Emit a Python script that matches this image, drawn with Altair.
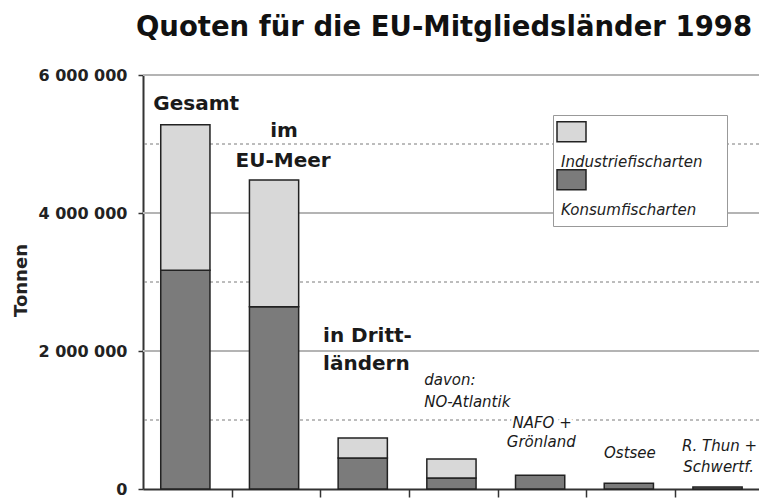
import altair as alt
import pandas as pd

# ---- data ----
categories = ["Gesamt", "im EU-Meer", "in Drittländern", "davon: NO-Atlantik",
              "NAFO + Grönland", "Ostsee", "R. Thun + Schwertf."]
konsum = [3170000, 2640000, 450000, 160000, 200000, 85000, 30000]
industrie = [2110000, 1840000, 290000, 275000, 0, 0, 0]
series = ["Industriefischarten", "Konsumfischarten"]
y_ticks = [0, 2000000, 4000000, 6000000]
x_ticks = [1, 2, 3, 4, 5, 6]
grid_solid = [2000000, 4000000, 6000000]
grid_dashed = [1000000, 3000000, 5000000]

# category annotations (text lines) and where they sit (category units, tonnes)
ann_text = ["Gesamt", "im", "EU-Meer", "in Dritt-", "ländern",
            "davon:", "NO-Atlantik", "NAFO +", "Grönland", "Ostsee",
            "R. Thun +", "Schwertf."]
ann_x = [0.60, 1.59, 1.58, 2.03, 2.03, 3.17, 3.17, 4.50, 4.49, 5.49, 6.50, 6.49]
ann_y = [5580000, 5190000, 4750000, 2217000, 1810000, 1580000, 1260000,
         957000, 680000, 520000, 620000, 320000]
ann_bold = [True, True, True, True, True, False, False, False, False, False, False, False]
ann_align = ["center", "center", "center", "left", "left", "left", "left",
             "center", "center", "center", "center", "center"]

rows = []
for i, c in enumerate(categories):
    rows.append(dict(idx=i, cat=c, art=series[1], lo=0, hi=konsum[i]))
    if industrie[i] > 0:
        rows.append(dict(idx=i, cat=c, art=series[0], lo=konsum[i],
                         hi=konsum[i] + industrie[i]))
bars_df = pd.DataFrame(rows)
ann_df = pd.DataFrame(dict(text=ann_text, x=ann_x, y=ann_y, bold=ann_bold, align=ann_align))
grid_df = pd.DataFrame(dict(v=grid_solid + grid_dashed,
                            kind=["solid"] * len(grid_solid) + ["dashed"] * len(grid_dashed)))

FONT = "DejaVu Sans"
xs = alt.Scale(domain=[0, 6.945], nice=False, zero=False)
ys = alt.Scale(domain=[0, 6000000], nice=False)

X_AXIS = alt.Axis(values=x_ticks, labels=False, title=None, grid=False,
                  tickSize=8, tickColor="#333", tickWidth=1.5,
                  domainColor="#333", domainWidth=2)
Y_AXIS = alt.Axis(values=y_ticks, grid=False, title="Tonnen",
                  labelExpr="datum.value == 0 ? '0' : format(datum.value / 1000000, 'd') + ' 000 000'",
                  labelFont=FONT, labelFontWeight="bold", labelFontSize=16,
                  labelColor="#222", labelPadding=11, tickSize=5,
                  tickColor="#333", tickWidth=1.5, domainColor="#333", domainWidth=2,
                  titleFont=FONT, titleFontWeight="bold", titleFontSize=18,
                  titleColor="#222", titleX=-122, titleY=205, titleAngle=270,
                  titleAlign="center", titleBaseline="middle")

grid_s = alt.Chart(grid_df).transform_filter("datum.kind == 'solid'").mark_rule(
    color="#b4b4b4", strokeWidth=2).encode(y=alt.Y("v:Q", scale=ys, axis=Y_AXIS))
grid_d = alt.Chart(grid_df).transform_filter("datum.kind == 'dashed'").mark_rule(
    color="#7a7a7a", strokeWidth=1, strokeDash=[3, 3]).encode(y=alt.Y("v:Q", scale=ys, axis=Y_AXIS))

bars = alt.Chart(bars_df).transform_calculate(
    x0="datum.idx + 0.2", x1="datum.idx + 0.755"
).mark_bar(stroke="#222222", strokeWidth=1.5).encode(
    x=alt.X("x0:Q", scale=xs, axis=X_AXIS),
    x2="x1:Q",
    y=alt.Y("lo:Q", scale=ys, axis=Y_AXIS),
    y2="hi:Q",
    color=alt.Color("art:N", scale=alt.Scale(domain=series, range=["#d8d8d8", "#7b7b7b"]),
                    legend=alt.Legend(orient="none", legendX=410, legendY=40,
                                      title="_" * 22, titleFontSize=14.3, titlePadding=17,
                                      titleFont=FONT, titleFontWeight="normal",
                                      titleColor="white", titleOpacity=0, titleAlign="left",
                                      symbolType="M-23,-80H35V-40H-23Z", symbolSize=1,
                                      symbolStrokeColor="#222", symbolStrokeWidth=1.5,
                                      labelFont=FONT, labelFontStyle="italic", labelFontSize=15,
                                      labelColor="#222", labelOffset=alt.ExprRef(expr="-15"),
                                      rowPadding=alt.ExprRef(expr="-4"),
                                      padding=8, strokeColor="#999", fillColor="white")),
)


def texts(bold, halo, align):
    base = alt.Chart(ann_df).transform_filter(
        ("datum.bold" if bold else "!datum.bold") + f" && datum.align == '{align}'")
    kw = dict(font=FONT, fontSize=20 if bold else 15,
              fontWeight="bold" if bold else "normal",
              fontStyle="normal" if bold else "italic", baseline="middle", align=align)
    if halo:
        kw.update(stroke="white", strokeWidth=6, strokeJoin="round", color="white")
    else:
        kw.update(color="#1a1a1a")
    return base.mark_text(**kw).encode(
        x=alt.X("x:Q", scale=xs, axis=X_AXIS),
        y=alt.Y("y:Q", scale=ys, axis=Y_AXIS),
        text="text:N",
    )


layers = [grid_s, grid_d, bars]
for halo in (True, False):
    for bold in (True, False):
        for al in ("center", "left"):
            layers.append(texts(bold, halo, al))

chart = alt.layer(*layers).properties(
    width=616, height=414,
    padding={"left": 143, "top": 75, "right": 0, "bottom": 9},
    autosize=alt.AutoSizeParams(type="none"),
    title=alt.Title("Quoten für die EU-Mitgliedsländer 1998", font=FONT, fontSize=27.5,
                    fontWeight="bold", color="#111", anchor="middle", dx=-7, dy=27,
                    baseline="alphabetic", offset=31, frame="group"),
).configure_view(stroke=None)

chart.save("out.html", embed_options={"renderer": "svg", "actions": False})
